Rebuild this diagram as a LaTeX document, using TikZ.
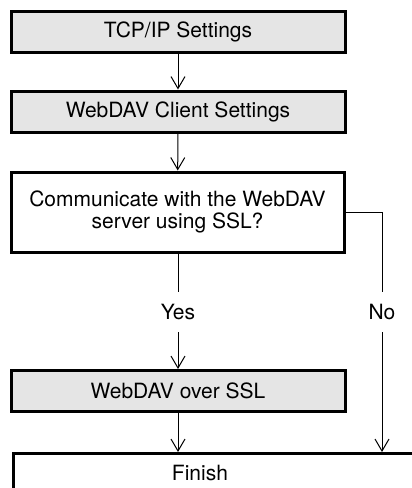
\documentclass[tikz,border=0pt]{standalone}
\usepackage{fontspec}
\setmainfont{TeX Gyre Heros}
\usetikzlibrary{arrows.meta}
\definecolor{boxgray}{gray}{0.9}

\begin{document}
\begin{tikzpicture}[x=1pt,y=-1pt,font=\fontsize{21}{22}\selectfont,
  stepbox/.style={rectangle,draw,line width=3pt,fill=boxgray,minimum width=334pt,minimum height=41pt,inner sep=0pt},
  askbox/.style={rectangle,draw,line width=3pt,fill=white,minimum width=333pt,minimum height=80pt,align=center,inner sep=0pt},
  lbl/.style={minimum height=40pt,inner sep=0pt},
  conn/.style={line width=1pt},
  arr/.style={conn,-{Straight Barb[length=12pt,width=14pt]}}]
 \useasboundingbox (0,0) rectangle (412,488);
 \node[stepbox] (tcp) at (178,31.5) {TCP/IP Settings};
 \node[stepbox] (client) at (178,111.5) {WebDAV Client Settings};
 \node[askbox] (ssl) at (177.5,212) {Communicate with the WebDAV\\server using SSL?};
 \node[lbl] (yes) at (178,312) {Yes};
 \node[lbl] (no) at (382,312) {No};
 \node[stepbox] (over) at (178,391) {WebDAV over SSL};
 \node[draw,line width=3pt,minimum width=420pt,minimum height=60pt,anchor=north west] (finbox) at (12,452) {};
 \node (finish) at (200,473) {Finish};
 \draw[arr] (tcp) -- (client);
 \draw[arr] (client) -- (ssl);
 \draw[conn] (ssl.south -| yes) -- (yes.north);
 \draw[arr] (yes.south) -- (over.north);
 \draw[conn] (ssl.east) -| (no.north);
 \draw[arr] (no.south) -- (no.south |- finbox.north);
 \draw[arr] (over.south) -- (over.south |- finbox.north);
\end{tikzpicture}
\end{document}
